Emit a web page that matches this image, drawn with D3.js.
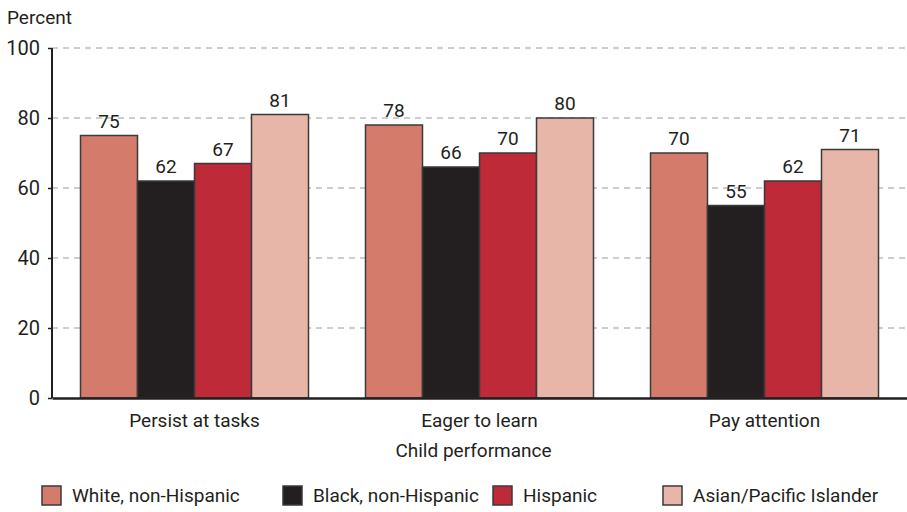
<!DOCTYPE html>
<html><head><meta charset="utf-8">
<script src="https://cdn.jsdelivr.net/npm/d3@7"></script>
<style>body{margin:0;background:#fff}text{font-family:Roboto,"DejaVu Sans",sans-serif;fill:#231F20}</style>
</head><body><svg id="c" width="907" height="512"></svg>
<script>
const categories = ["Persist at tasks", "Eager to learn", "Pay attention"];
const seriesNames = ["White, non-Hispanic", "Black, non-Hispanic", "Hispanic", "Asian/Pacific Islander"];
const white = [75, 78, 70];
const black = [62, 66, 55];
const hispanic = [67, 70, 62];
const asian = [81, 80, 71];
const yTicks = [0, 20, 40, 60, 80, 100];
const colors = ["#D47B6C", "#231F20", "#BE2A37", "#E8B6A8"];
const seriesValues = [white, black, hispanic, asian];

(function () {
const svg = d3.select("#c");
const mLeft = 52, mRight = 907, mTop = 48, mBottom = 398;
const x = d3.scaleBand().domain(categories).range([mLeft, mRight]).paddingInner(0.2).paddingOuter(0.1);
const x0 = d3.scaleBand().domain(categories).range([mLeft, mRight]).padding(0);
const xs = d3.scaleBand().domain(seriesNames).range([0, x.bandwidth()]);
const y = d3.scaleLinear().domain([0, 100]).range([mBottom, mTop]);

// grid
svg.append("g").selectAll("line").data(yTicks.filter(d => d > 0)).join("line")
  .attr("x1", mLeft).attr("x2", mRight).attr("y1", d => y(d)).attr("y2", d => y(d))
  .attr("stroke", "#9a9a9a").attr("stroke-width", 1).attr("stroke-dasharray", "6,5");

// bars
const groups = svg.append("g").selectAll("g").data(categories).join("g")
  .attr("transform", c => `translate(${x0(c) + (x0.bandwidth() - x.bandwidth()) / 2},0)`);
seriesNames.forEach((s, si) => {
  groups.append("rect")
    .attr("x", () => xs(s))
    .attr("width", xs.bandwidth())
    .attr("y", (c, i) => y(seriesValues[si][i]))
    .attr("height", (c, i) => y(0) - y(seriesValues[si][i]))
    .attr("fill", colors[si]).attr("stroke", "#3a3a3a").attr("stroke-width", 1.5);
  groups.append("text")
    .attr("x", () => xs(s) + xs.bandwidth() / 2)
    .attr("y", (c, i) => y(seriesValues[si][i]) - 8)
    .attr("text-anchor", "middle").attr("font-size", 19)
    .text((c, i) => seriesValues[si][i]);
});

// y axis
const yAxis = d3.axisLeft(y).tickValues(yTicks).tickSize(4).tickPadding(8);
const ya = svg.append("g").attr("transform", `translate(${mLeft},0)`).call(yAxis);
ya.select(".domain").attr("stroke", "#231F20").attr("stroke-width", 2).attr("d", `M0,${mTop}V${mBottom}`);
ya.selectAll(".tick line").attr("stroke", "#231F20").attr("stroke-width", 1.5);
ya.selectAll(".tick text").attr("font-size", 20).attr("font-family", "Roboto, sans-serif").attr("fill", "#231F20");

// x axis baseline
const xAxis = d3.axisBottom(x0).tickSize(0).tickPadding(16);
const xa = svg.append("g").attr("transform", `translate(0,${mBottom})`).call(xAxis);
xa.select(".domain").attr("stroke", "#231F20").attr("stroke-width", 2.5);
xa.selectAll(".tick text").attr("font-size", 19).attr("font-family", "Roboto, sans-serif").attr("fill", "#231F20");

svg.append("text").attr("x", (mLeft + mRight) / 2 - 6).attr("y", 457).attr("text-anchor", "middle")
  .attr("font-size", 19).text("Child performance");
svg.append("text").attr("x", 7).attr("y", 24).attr("font-size", 19).text("Percent");

// legend
const legendX = [42, 283, 493, 663];
const lg = svg.append("g").selectAll("g").data(seriesNames).join("g")
  .attr("transform", (d, i) => `translate(${legendX[i]},486)`);
lg.append("rect").attr("width", 19).attr("height", 19).attr("fill", (d, i) => colors[i])
  .attr("stroke", "#3a3a3a").attr("stroke-width", 1.5);
lg.append("text").attr("x", 30).attr("y", 16).attr("font-size", 19).text(d => d);
})();
</script></body></html>
